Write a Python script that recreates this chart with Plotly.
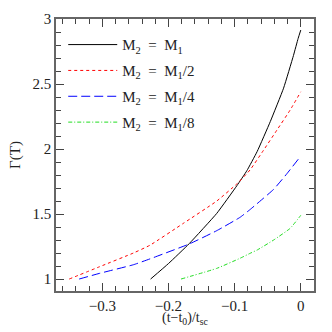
import plotly.graph_objects as go

# Black: M2 = M1
x_m1 = [-0.227, -0.2, -0.1685, -0.127, -0.0967, -0.0815, -0.066, -0.046, -0.026, -0.011, -0.004, 0.0]
y_m1 = [1.0, 1.119, 1.273, 1.505, 1.717, 1.833, 1.98, 2.212, 2.468, 2.72, 2.85, 2.915]
# Red: M2 = M1/2
x_m2 = [-0.35, -0.304, -0.253, -0.228, -0.1776, -0.127, -0.0957, -0.0765, -0.0564, -0.036, -0.016, 0.0]
y_m2 = [1.0, 1.095, 1.2, 1.26, 1.428, 1.60, 1.736, 1.84, 1.99, 2.146, 2.30, 2.44]
# Blue: M2 = M1/4
x_m4 = [-0.335, -0.304, -0.253, -0.228, -0.1685, -0.127, -0.0917, -0.0765, -0.066, -0.041, -0.021, 0.0]
y_m4 = [1.0, 1.044, 1.11, 1.155, 1.27, 1.372, 1.475, 1.535, 1.58, 1.69, 1.81, 1.946]
# Green: M2 = M1/8
x_m8 = [-0.181, -0.127, -0.0917, -0.0765, -0.066, -0.041, -0.016, 0.0]
y_m8 = [1.0, 1.082, 1.16, 1.198, 1.223, 1.30, 1.39, 1.49]

names = ["M<sub>2</sub>  =  M<sub>1</sub>", "M<sub>2</sub>  =  M<sub>1</sub>/2",
         "M<sub>2</sub>  =  M<sub>1</sub>/4", "M<sub>2</sub>  =  M<sub>1</sub>/8"]
xtick_vals = [-0.3, -0.2, -0.1, 0.0]
xtick_text = ["\u22120.3", "\u22120.2", "\u22120.1", "0"]
ytick_vals = [1, 1.5, 2, 2.5, 3]
ytick_text = ["1", "1.5", "2", "2.5", "3"]
x_title = "(t\u2212t<sub>0</sub>)/t<sub>sc</sub>"
y_title = "\u0393(T)"

series = [
    (x_m1, y_m1, "black", "solid"),
    (x_m2, y_m2, "red", "3px,3px"),
    (x_m4, y_m4, "blue", "9px,4px"),
    (x_m8, y_m8, "#22dd22", "4px,2px,1px,2px"),
]

legend_ids = ["legend", "legend2", "legend3", "legend4"]
legend_y = [0.905, 0.81, 0.715, 0.62]

fig = go.Figure()
for (xs, ys, c, d), n, lid in zip(series, names, legend_ids):
    fig.add_trace(go.Scatter(x=xs, y=ys, mode="lines", name=n, legend=lid,
                             line=dict(color=c, width=1, dash=d, shape="spline", smoothing=0.4)))

font = dict(family="Liberation Serif", size=15, color="#222")
axis_common = dict(ticks="inside", mirror="allticks", showline=True, linecolor="#666",
                   linewidth=1.5, tickcolor="#444", tickwidth=1, showgrid=False,
                   zeroline=False, tickfont=font, automargin=False)
legend_layout = {}
for lid, ly in zip(legend_ids, legend_y):
    legend_layout[lid] = dict(x=0.028, y=ly, xanchor="left", yanchor="middle",
                              bgcolor="rgba(0,0,0,0)", font=font, itemwidth=49)

fig.update_layout(
    width=332, height=332,
    margin=dict(l=56, r=18, t=19, b=41, autoexpand=False),
    paper_bgcolor="white", plot_bgcolor="white",
    font=font,
    showlegend=True,
    xaxis=dict(range=[-0.37, 0.02], tickvals=xtick_vals, ticktext=xtick_text, ticklen=8,
               minor=dict(dtick=0.02, ticklen=5, ticks="inside", tickcolor="#444"),
               **axis_common),
    yaxis=dict(range=[0.908, 3.0], tickvals=ytick_vals, ticktext=ytick_text, ticklen=8,
               minor=dict(dtick=0.1, ticklen=5, ticks="inside", tickcolor="#444"),
               title=dict(text=y_title, font=font, standoff=8),
               **axis_common),
    annotations=[dict(text=x_title, xref="paper", yref="paper", x=0.5, y=-0.1,
                      xanchor="center", yanchor="middle", showarrow=False,
                      font=dict(family="Liberation Serif", size=14, color="#222"))],
    **legend_layout,
)
fig.write_html("out.html", config={"displayModeBar": False},
               post_script="document.body.style.margin='0';document.body.style.overflow='hidden';")
